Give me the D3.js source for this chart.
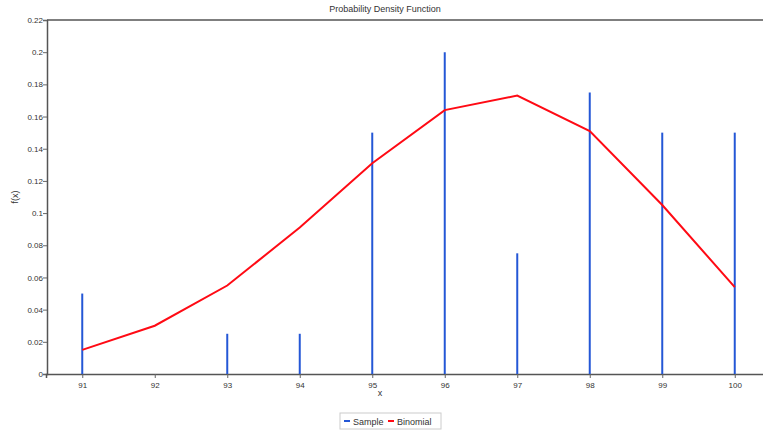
<!DOCTYPE html>
<html>
<head>
<meta charset="utf-8">
<script src="https://cdn.jsdelivr.net/npm/d3@7"></script>
<style>
  body { margin: 0; background: #fff; }
  text { font-family: "Liberation Sans", Arial, sans-serif; fill: #333; }
</style>
</head>
<body>
<script>
// x categories (values of x)
const xValues = [91, 92, 93, 94, 95, 96, 97, 98, 99, 100];
// sample relative frequencies
const sampleValues = [0.05, 0, 0.025, 0.025, 0.15, 0.2, 0.075, 0.175, 0.15, 0.15];
// binomial pdf
const binomialValues = [0.015, 0.03, 0.055, 0.091, 0.131, 0.164, 0.173, 0.151, 0.105, 0.054];
// y tick labels
const yTicks = [0, 0.02, 0.04, 0.06, 0.08, 0.1, 0.12, 0.14, 0.16, 0.18, 0.2, 0.22];

const width = 763, height = 430;
const svg = d3.select('body').append('svg')
  .attr('width', width)
  .attr('height', height);

// scales
const xScale = d3.scaleLinear().domain([90.5, 100.5]).range([46, 771]);
const yScale = d3.scaleLinear().domain([0, 0.22]).range([374, 20]);

// title
svg.append('text')
  .attr('x', 385).attr('y', 12)
  .attr('text-anchor', 'middle')
  .style('font-size', '9px')
  .text('Probability Density Function');

// top border
svg.append('line')
  .attr('x1', 47).attr('x2', width)
  .attr('y1', yScale(0.22)).attr('y2', yScale(0.22))
  .attr('stroke', '#555').attr('stroke-width', 1.5);

// y axis
const yAxis = d3.axisLeft(yScale).tickValues(yTicks).tickSize(4).tickFormat(d3.format('~g'));
const gy = svg.append('g').attr('transform', 'translate(47,0)').call(yAxis);
gy.select('.domain').attr('stroke', '#555').attr('stroke-width', 1.5);
gy.selectAll('.tick line').attr('stroke', '#666');
gy.selectAll('.tick text').style('font-size', '8px').attr('x', -4);

// x axis
const xAxis = d3.axisBottom(xScale).tickValues(xValues).tickSize(4);
const gx = svg.append('g').attr('transform', 'translate(0,374)').call(xAxis);
gx.select('.domain').attr('stroke', '#555').attr('stroke-width', 1.5);
gx.selectAll('.tick line').attr('stroke', '#666');
gx.selectAll('.tick text').style('font-size', '8px').attr('y', 8);

// axis labels
svg.append('text')
  .attr('x', 380).attr('y', 396)
  .attr('text-anchor', 'middle')
  .style('font-size', '9px')
  .text('x');

svg.append('text')
  .attr('transform', 'translate(18,197)rotate(-90)')
  .attr('text-anchor', 'middle')
  .style('font-size', '9px')
  .text('f(x)');

// sample bars (vertical lines)
svg.selectAll('.sample')
  .data(xValues.map((x, i) => ({ x: x, y: sampleValues[i] })))
  .enter()
  .append('line')
  .attr('class', 'sample')
  .attr('x1', d => xScale(d.x)).attr('x2', d => xScale(d.x))
  .attr('y1', yScale(0)).attr('y2', d => yScale(d.y))
  .attr('stroke', '#2457d6')
  .attr('stroke-width', 2);

// binomial line
const line = d3.line()
  .x((d, i) => xScale(xValues[i]))
  .y(d => yScale(d));
svg.append('path')
  .datum(binomialValues)
  .attr('d', line)
  .attr('fill', 'none')
  .attr('stroke', '#ff0a14')
  .attr('stroke-width', 2);

// legend
const legend = svg.append('g').attr('transform', 'translate(340,413)');
legend.append('rect')
  .attr('x', 0).attr('y', 0).attr('width', 101).attr('height', 16)
  .attr('fill', '#fff').attr('stroke', '#ccc');
const legendItems = [
  { name: 'Sample', color: '#2457d6', x: 4 },
  { name: 'Binomial', color: '#ff0a14', x: 48 }
];
legendItems.forEach(function(item) {
  legend.append('line')
    .attr('x1', item.x).attr('x2', item.x + 6)
    .attr('y1', 8).attr('y2', 8)
    .attr('stroke', item.color).attr('stroke-width', 2);
  legend.append('text')
    .attr('x', item.x + 9).attr('y', 11.5)
    .style('font-size', '9px')
    .text(item.name);
});
</script>
</body>
</html>
